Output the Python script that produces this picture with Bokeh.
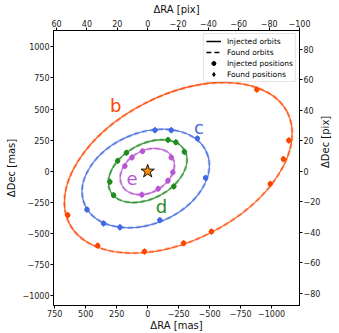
import math
from bokeh.plotting import figure
from bokeh.models import (Range1d, LinearAxis, FixedTicker, Legend, LegendItem,
                          ColumnDataSource)
from bokeh.core.properties import value
from bokeh.embed import file_html
from bokeh.resources import INLINE

MAS_PER_PIX = 12.25

planets = ["b", "c", "d", "e"]
colors = ["#FF4500", "#4169E1", "#228B22", "#BA55D3"]

# orbit ellipses (mas): centre, full width / height, tilt (deg)
orb_x = [-247, 16, 0, 3]
orb_y = [28, -58, 1, -2]
orb_w = [1975, 1070, 684, 466]
orb_h = [1165, 730, 436, 334]
orb_ang = [27, 23, 29, 30]

# positions (mas)
b_x = [-881, -1139, -1095, -989, -514, -290, 26, 403, 645]
b_y = [656, 248, 98, -101, -484, -577, -644, -597, -352]
c_x = [-59, -190, -401, -467, -98, 224, 356, 490]
c_y = [330, 330, 264, -53, -392, -450, -418, -307]
d_x = [-164, -227, -296, -211, 171, 242, 305, 275]
d_y = [252, 233, 156, -121, 149, 84, -85, -192]
e_x = [184, 127, 42, -190, -203, -164, -85, 47]
e_y = [42, 111, 161, 111, -8, -75, -140, -188]
pos_x = [b_x, c_x, d_x, e_x]
pos_y = [b_y, c_y, d_y, e_y]

# planet labels (mas)
lab_x = [258, -414, -111, 127]
lab_y = [526, 354, -281, -61]

x_ticks = [750, 500, 250, 0, -250, -500, -750, -1000]
y_ticks = [1000, 750, 500, 250, 0, -250, -500, -750, -1000]
xpix_ticks = [60, 40, 20, 0, -20, -40, -60, -80, -100]
ypix_ticks = [80, 60, 40, 20, 0, -20, -40, -60, -80]

x_lim = (760, -1225)
y_lim = (-1077, 1130)

FONT = "DejaVu Sans"

p = figure(width=339, height=333, output_backend="svg",
           toolbar_location=None, x_axis_location=None, y_axis_location=None,
           x_range=Range1d(*x_lim), y_range=Range1d(*y_lim),
           min_border_left=53, min_border_right=35, min_border_top=30,
           min_border_bottom=25)
p.extra_x_ranges = {"pix": Range1d(x_lim[0] / MAS_PER_PIX, x_lim[1] / MAS_PER_PIX)}
p.extra_y_ranges = {"pix": Range1d(y_lim[0] / MAS_PER_PIX, y_lim[1] / MAS_PER_PIX)}
p.grid.visible = False
p.outline_line_color = "black"
p.outline_line_width = 1
p.background_fill_color = "white"
p.border_fill_color = "white"


def style_axis(ax, ticks, label):
    ax.ticker = FixedTicker(ticks=ticks)
    ax.axis_label = label
    ax.axis_label_text_font = FONT
    ax.axis_label_text_font_size = "10px"
    ax.axis_label_text_font_style = "normal"
    ax.axis_label_standoff = 0
    ax.major_label_text_font = FONT
    ax.major_label_text_font_size = "8px"
    ax.major_label_standoff = 1
    ax.major_tick_out = 3
    ax.major_tick_in = 0
    ax.minor_tick_out = 0
    ax.minor_tick_in = 0
    ax.axis_line_color = "black"
    ax.major_tick_line_color = "black"
    ax.major_label_text_color = "#222222"
    ax.axis_label_text_color = "#111111"


ax_b = LinearAxis()
style_axis(ax_b, x_ticks, "ΔRA [mas]")
p.add_layout(ax_b, "below")
ax_l = LinearAxis()
style_axis(ax_l, y_ticks, "ΔDec [mas]")
ax_l.axis_label_standoff = 2
p.add_layout(ax_l, "left")
ax_t = LinearAxis(x_range_name="pix")
style_axis(ax_t, xpix_ticks, "ΔRA [pix]")
ax_t.axis_label_standoff = 2
p.add_layout(ax_t, "above")
ax_r = LinearAxis(y_range_name="pix")
style_axis(ax_r, ypix_ticks, "ΔDec [pix]")
ax_r.axis_label_orientation = math.pi / 2
ax_r.axis_label_standoff = 2
p.add_layout(ax_r, "right")

# orbits
for i in range(4):
    p.ellipse(x=orb_x[i], y=orb_y[i], width=orb_w[i], height=orb_h[i],
              angle=orb_ang[i], angle_units="deg", fill_alpha=0,
              line_color=colors[i], line_width=1.3, line_alpha=0.85)
    p.ellipse(x=orb_x[i], y=orb_y[i], width=orb_w[i], height=orb_h[i],
              angle=orb_ang[i], angle_units="deg", fill_alpha=0,
              line_color=colors[i], line_width=2.6, line_alpha=0.4,
              line_dash="5 3")

for i in range(4):
    p.scatter(x=pos_x[i], y=pos_y[i], marker="circle", size=4.5,
              fill_color=colors[i], line_color=colors[i])
    p.scatter(x=pos_x[i], y=pos_y[i], marker="diamond", size=6,
              fill_color=colors[i], line_color=colors[i], fill_alpha=0.8,
              line_alpha=0.8)

src = ColumnDataSource(dict(x=lab_x, y=lab_y, t=planets, c=colors))
p.text(x="x", y="y", text="t", text_color="c", source=src,
       text_font=value(FONT), text_font_size="18px",
       text_align="center", text_baseline="middle")

p.scatter(x=[0], y=[0], marker="star", size=14, fill_color="#FF8C00",
          line_color="black", line_width=0.9)

# legend proxies (placed far outside the visible ranges)
far = [1e6]
r1 = p.line(x=far, y=far, line_color="black", line_width=1.5)
r2 = p.line(x=far, y=far, line_color="black", line_width=1.5, line_dash="5 3")
r3 = p.scatter(x=far, y=far, marker="circle", size=4, fill_color="black",
               line_color="black")
r4 = p.scatter(x=far, y=far, marker="diamond", size=6, fill_color="black",
               line_color="black")
legend = Legend(items=[LegendItem(label="Injected orbits", renderers=[r1]),
                       LegendItem(label="Found orbits", renderers=[r2]),
                       LegendItem(label="Injected positions", renderers=[r3]),
                       LegendItem(label="Found positions", renderers=[r4])],
                location="top_right")
legend.label_text_font = FONT
legend.label_text_font_size = "7.5px"
legend.label_text_color = "black"
legend.label_height = 10
legend.glyph_height = 10
legend.glyph_width = 15
legend.label_standoff = 6
legend.spacing = 1
legend.padding = 2
legend.margin = 3
legend.border_line_color = "#cccccc"
legend.border_line_width = 1
legend.background_fill_alpha = 0.85
p.add_layout(legend)

open("out.html", "w").write(file_html(p, INLINE))
